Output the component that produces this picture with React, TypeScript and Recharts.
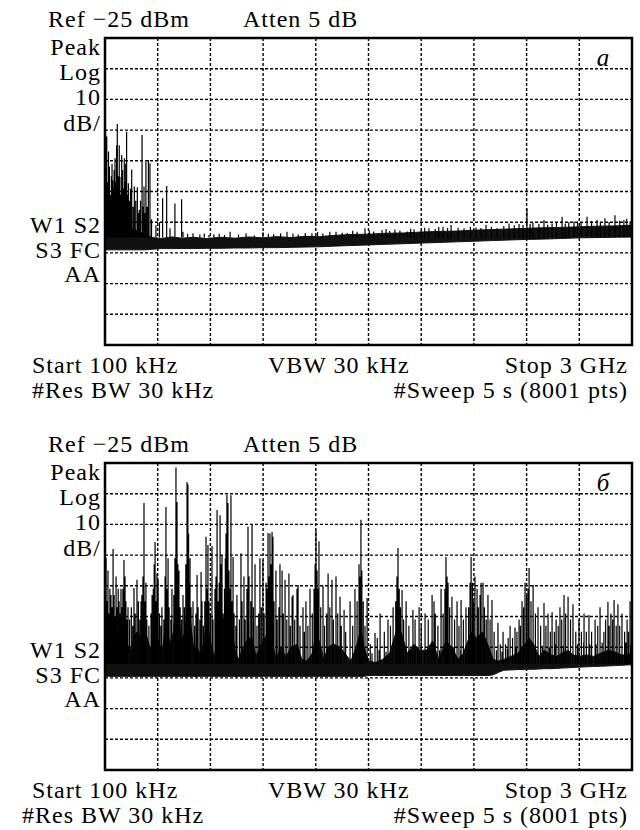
import React from "react";
import {
  ComposedChart,
  Area,
  Line,
  XAxis,
  YAxis,
  CartesianGrid,
  ReferenceArea,
} from "recharts";

// frequency axis in MHz (100 kHz .. 3 GHz), level in dBm (ref -25, 10 dB/div)
const freqTicks = [0, 300, 600, 900, 1200, 1500, 1800, 2100, 2400, 2700, 3000];
const levelTicks = [-125, -115, -105, -95, -85, -75, -65, -55, -45, -35, -25];

const headerLabels = ["Ref −25 dBm", "Atten 5 dB"];
const sideLabelsUpper = ["Peak", "Log", "10", "dB/"];
const sideLabelsLower = ["W1 S2", "S3 FC", "AA"];
const footerLine1 = ["Start 100 kHz", "VBW 30 kHz", "Stop 3 GHz"];
const footerLine2 = ["#Res BW 30 kHz", "#Sweep 5 s (8001 pts)"];
const panelTags = ["а", "б"];

// noise floor band: [MHz, low dBm, high dBm]
const floorA = [
  [0, -94, -84], [30, -94, -85], [60, -94, -84], [90, -94, -85.5], [120, -94, -86],
  [150, -94, -87], [190, -94, -88], [230, -94, -89], [270, -93.8, -90], [320, -93.6, -90.3],
  [380, -93.6, -89.8], [440, -93.6, -90.2], [500, -93.6, -89.9], [580, -93.5, -90.3], [660, -93.5, -89.9],
  [740, -93.4, -90.2], [820, -93.4, -89.8], [900, -93.3, -90.1], [980, -93.3, -89.7], [1060, -93.2, -90],
  [1140, -93.1, -89.6], [1220, -93, -89.7], [1300, -92.8, -89.3], [1400, -92.6, -89], [1500, -92.4, -88.9],
  [1600, -92.2, -88.6], [1700, -92, -88.5], [1800, -91.8, -88.2], [1900, -91.6, -88], [2000, -91.4, -87.9],
  [2100, -91.2, -87.6], [2200, -91, -87.4], [2300, -90.8, -87.2], [2400, -90.6, -87], [2500, -90.5, -86.8],
  [2600, -90.3, -86.7], [2700, -90.1, -86.5], [2800, -90, -86.3], [2900, -89.9, -86.2], [3000, -89.8, -86],
];

const floorB = [
  [0, -94.5, -80], [20, -94.5, -82], [46, -94.5, -79], [70, -94.5, -81], [100, -94.5, -80],
  [125, -94.5, -84], [150, -94.5, -86], [165, -94.5, -81], [185, -94.5, -80], [205, -94.5, -82],
  [222, -94.5, -77], [240, -94.5, -82], [260, -94.5, -86], [285, -94.5, -79], [300, -94.5, -82],
  [325, -94.5, -87], [347, -94.5, -77], [370, -94.5, -84], [390, -94.5, -80], [404, -94.5, -70],
  [415, -94.5, -72], [435, -94.5, -83], [455, -94.5, -80], [467, -94.5, -72], [484, -94.5, -75],
  [505, -94.5, -86], [524, -94.5, -85], [550, -94.5, -88], [575, -94.5, -79], [590, -94.5, -80],
  [610, -94.5, -86], [625, -94.5, -88], [638, -94.5, -77], [660, -94.5, -78], [694, -94.5, -73],
  [705, -94.5, -75], [720, -94.5, -78], [740, -94.5, -86], [760, -94.5, -89], [780, -94.5, -86],
  [814, -94.5, -82], [837, -94.5, -82], [860, -94.5, -88], [880, -94.5, -85], [900, -94.5, -83],
  [930, -94.5, -80], [950, -94.5, -83], [975, -94.5, -89], [1000, -94.5, -85], [1030, -94.5, -88],
  [1060, -94.5, -85], [1095, -94.5, -84], [1120, -94.5, -89], [1150, -94.5, -89.5], [1180, -94.5, -87],
  [1201, -94.5, -81], [1220, -94.5, -83], [1245, -94.5, -89], [1270, -94.5, -85], [1300, -94.5, -84],
  [1340, -94.5, -85], [1365, -94.5, -87], [1400, -94.5, -89.5], [1430, -94.5, -85], [1457, -94.5, -79],
  [1475, -94.5, -85], [1500, -94.2, -89.5], [1540, -94.2, -90], [1580, -94.2, -89], [1620, -94.2, -87],
  [1668, -94.2, -78], [1691, -94.2, -81], [1720, -94.2, -87], [1760, -94.2, -84], [1790, -94.2, -86],
  [1830, -94.2, -86], [1865, -94.2, -83], [1900, -94.2, -89], [1941, -94.2, -83], [1975, -94.2, -85],
  [2010, -94.2, -89], [2040, -94.2, -87], [2084, -94.2, -80], [2115, -94.2, -82], [2150, -94.2, -80],
  [2185, -94.2, -85], [2210, -94, -89], [2240, -93.2, -89.5], [2270, -92.5, -89], [2310, -92.4, -88],
  [2350, -92.3, -87], [2391, -92.2, -84], [2414, -92.2, -82], [2440, -92.2, -84], [2470, -92.1, -88],
  [2500, -92, -86], [2540, -92, -87.5], [2570, -91.9, -88], [2600, -91.8, -87], [2636, -91.7, -86],
  [2664, -91.6, -87.5], [2700, -91.5, -88], [2740, -91.4, -87.5], [2780, -91.3, -88], [2820, -91.2, -87],
  [2863, -91.1, -86], [2900, -91, -86.5], [2940, -90.9, -87.5], [2970, -90.8, -87.5], [3000, -90.7, -87],
];

// spectral lines: [MHz, peak dBm]
const spikesA = [
  [3, -57], [5, -68], [10, -57.1], [15, -72], [20, -62], [25, -66.9], [28, -78], [32, -76.1],
  [36, -70], [40, -66], [44, -71.3], [48, -74], [52, -68], [57, -64.2], [62, -72], [66, -60],
  [70, -53], [75, -70], [81, -59.9], [85, -70.2], [90, -76], [95, -63.1], [100, -68], [105, -74],
  [110, -64.2], [115, -72], [118, -66], [123, -55.5], [128, -76], [133, -72.3], [138, -78], [145, -74],
  [152, -67.8], [160, -80], [167, -73.4], [175, -78], [184, -73.6], [190, -82], [195, -81], [202, -78],
  [211, -56.6], [215, -80], [222, -73.4], [228, -82], [233, -65.3], [240, -80], [247, -64.7], [256, -65.8],
  [265, -84], [290, -86], [310, -85], [328, -77.2], [351, -73.2], [370, -87], [398, -78.9], [436, -77.5],
  [444, -88.1], [470, -88.8], [501, -88.6], [540, -89], [565, -88.7], [592, -89.2], [620, -88.9], [650, -88.8],
  [680, -89.2], [712, -88.1], [760, -89], [803, -88.6], [850, -89.3], [899, -88.3], [930, -88.8], [960, -88.9],
  [1000, -88.6], [1036, -88.1], [1070, -88.7], [1100, -89], [1140, -88.5], [1178, -88.6], [1210, -88.2],
  [1240, -88.7], [1280, -88.1], [1315, -88.1], [1350, -88.4], [1380, -88.5], [1410, -87.8], [1435, -88.1],
  [1480, -87], [1505, -87.8], [1530, -88], [1577, -87.5], [1600, -87.2], [1620, -87.9], [1650, -87.4],
  [1679, -87.7], [1720, -88], [1740, -87.1], [1759, -87.3], [1800, -87.6], [1820, -86.8], [1844, -87],
  [1880, -87.2], [1900, -86.6], [1924, -86.5], [1950, -86.9], [1970, -85.9], [2010, -86.8], [2044, -87],
  [2080, -86.6], [2112, -86.7], [2140, -86.9], [2169, -85.9], [2200, -86.5], [2232, -87], [2270, -86.2],
  [2300, -85.4], [2330, -86], [2357, -85.6], [2380, -85.9], [2402, -80.5], [2420, -85.6], [2436, -85.2],
  [2470, -85.5], [2499, -84.3], [2520, -85.8], [2545, -85.4], [2570, -85.1], [2602, -83.2], [2620, -85.4],
  [2640, -85], [2670, -84.8], [2690, -85.2], [2710, -85.3], [2744, -83.2], [2770, -84.6], [2801, -84.3],
  [2820, -84.9], [2846, -83.7], [2870, -84.9], [2903, -82.7], [2930, -84.5], [2954, -84.3], [2970, -83.9],
  [2989, -84.8],
];

const spikesB = [
  [6, -56], [12, -70], [17, -60], [22, -74], [28, -66], [34, -68], [40, -72], [46, -53],
  [52, -68], [58, -75], [63, -62], [68, -72], [75, -66], [80, -70], [86, -74], [91, -66],
  [97, -72], [102, -66], [108, -56.6], [114, -62], [119, -70], [125, -76], [131, -72], [140, -76],
  [150, -72], [158, -78], [165, -65.7], [172, -74], [182, -63], [190, -70], [198, -76], [205, -70],
  [210, -68], [216, -62], [222, -38], [228, -70], [233, -64], [238, -76], [250, -78], [262, -74],
  [268, -68], [275, -66], [280, -58], [285, -50.7], [290, -70], [296, -61], [302, -63], [310, -74],
  [318, -78], [324, -72], [335, -76], [342, -62], [347, -39.3], [352, -66], [359, -56], [365, -72],
  [375, -76], [381, -66], [392, -68], [398, -56], [404, -26.5], [407, -50], [410, -37.7], [415, -58],
  [421, -60], [428, -72], [436, -76], [444, -68], [452, -72], [460, -58], [467, -31.2], [472, -32],
  [476, -48], [480, -64], [484, -56], [490, -72], [501, -70], [510, -78], [518, -74], [524, -61.5],
  [530, -72], [540, -76], [547, -60.5], [552, -70], [560, -78], [568, -70], [575, -49], [580, -66],
  [586, -51.7], [592, -70], [600, -74], [609, -52], [615, -76], [626, -66], [632, -62], [638, -40.3],
  [644, -70], [650, -64], [655, -42], [660, -58], [666, -55], [672, -74], [680, -66], [685, -56],
  [689, -48], [694, -35.4], [700, -38], [706, -60], [711, -66], [717, -35.5], [722, -70], [729, -55.6],
  [735, -74], [745, -78], [751, -68], [765, -76], [774, -54.4], [780, -70], [791, -62], [798, -76],
  [808, -66], [814, -45.8], [820, -62], [830, -70], [837, -45.2], [845, -72], [854, -58], [865, -78],
  [875, -74], [882, -56], [890, -72], [899, -56.6], [906, -74], [917, -64], [922, -66], [928, -47.8],
  [934, -62], [939, -48], [945, -58], [951, -47.5], [956, -49], [962, -70], [973, -60], [980, -76],
  [990, -72], [996, -58], [1008, -60], [1015, -74], [1025, -63], [1035, -76], [1047, -61], [1055, -78],
  [1065, -68.6], [1070, -68], [1080, -76], [1093, -66], [1099, -64.7], [1110, -78], [1127, -72], [1135, -80],
  [1144, -70], [1155, -78], [1167, -66], [1180, -74], [1190, -66], [1196, -58], [1201, -46.8], [1207, -60],
  [1212, -66], [1218, -50.5], [1228, -72], [1241, -65], [1250, -78], [1262, -74], [1270, -61], [1280, -72],
  [1292, -63], [1300, -76], [1315, -62], [1325, -74], [1338, -68.6], [1345, -78], [1361, -72.9], [1370, -80],
  [1395, -70], [1410, -78], [1423, -66], [1435, -70], [1446, -58], [1450, -62], [1457, -43.5], [1462, -60],
  [1470, -70], [1480, -78], [1492, -69], [1510, -84], [1520, -87], [1537, -80.4], [1550, -82], [1560, -86],
  [1566, -74], [1590, -80], [1600, -86.5], [1611, -76], [1625, -78], [1640, -72], [1655, -70], [1662, -62],
  [1668, -52.7], [1675, -66], [1682, -72], [1691, -66.4], [1700, -76], [1714, -70], [1730, -78], [1740, -86],
  [1753, -72.9], [1765, -76], [1780, -85], [1788, -72], [1800, -78], [1822, -74], [1840, -76], [1850, -86],
  [1862, -68], [1873, -70], [1880, -74], [1895, -78], [1905, -86], [1913, -66], [1925, -74], [1935, -66],
  [1941, -55.6], [1947, -62], [1953, -64], [1962, -72], [1975, -68.6], [1985, -85], [1990, -76], [2004, -70],
  [2015, -78], [2025, -86], [2027, -69.6], [2040, -76], [2055, -72], [2060, -85], [2070, -72], [2078, -64],
  [2084, -55.6], [2092, -64], [2098, -70], [2106, -62], [2118, -66], [2125, -72], [2135, -68], [2141, -64],
  [2152, -64], [2160, -72], [2170, -76], [2180, -68], [2192, -76], [2203, -69.6], [2215, -80], [2228, -86],
  [2237, -77], [2250, -84], [2260, -86.5], [2266, -80], [2280, -84], [2290, -85.5], [2295, -82], [2306, -78],
  [2320, -82], [2334, -78.6], [2340, -85], [2345, -80], [2357, -76], [2365, -78], [2374, -70], [2383, -72],
  [2391, -64], [2400, -68], [2408, -66], [2414, -59.2], [2425, -70], [2437, -64.7], [2450, -74], [2465, -72],
  [2480, -78], [2490, -84.5], [2499, -70.6], [2510, -78], [2522, -74], [2530, -85], [2535, -80], [2545, -73.6],
  [2558, -80], [2565, -84], [2568, -76], [2580, -78], [2590, -72], [2600, -76], [2610, -84.5], [2613, -68],
  [2622, -74], [2636, -68.6], [2650, -76], [2664, -71], [2680, -80], [2690, -84], [2698, -76], [2712, -80],
  [2725, -83.5], [2727, -74], [2740, -80], [2755, -74.5], [2760, -84], [2770, -80], [2790, -76], [2795, -84],
  [2805, -78], [2818, -72], [2830, -83.5], [2840, -80], [2850, -76], [2863, -70.3], [2870, -78], [2880, -74],
  [2890, -76], [2898, -69.6], [2910, -78], [2920, -71], [2930, -78], [2943, -74], [2958, -80], [2965, -83.5],
  [2972, -76], [2980, -80], [2989, -70], [2995, -84],
];

const FONT = "Liberation Serif, Times New Roman, serif";

function Trace({ floor, spikes, base }: { floor: number[][]; spikes: number[][]; base: number }) {
  const bandData = floor.map(([f, lo, hi]) => ({ f, range: [lo, hi] }));
  const lineData = spikes.flatMap(([f, v]) => [
    { f, v: base },
    { f, v },
    { f, v: null },
  ]);
  return (
    <ComposedChart width={640} height={425} margin={{ top: 38, right: 8, bottom: 80, left: 105 }}>
      <XAxis type="number" dataKey="f" domain={[0, 3000]} ticks={freqTicks} hide />
      <YAxis type="number" domain={[-125, -25]} ticks={levelTicks} allowDataOverflow hide />
      <CartesianGrid stroke="#000" strokeWidth={1.4} strokeDasharray="3 2" />
      <Area
        data={bandData}
        dataKey="range"
        type="linear"
        stroke="#111"
        strokeWidth={1}
        fill="#111"
        fillOpacity={1}
        isAnimationActive={false}
      />
      <Line
        data={lineData}
        dataKey="v"
        type="linear"
        stroke="#000"
        strokeWidth={1.2}
        dot={false}
        isAnimationActive={false}
      />
      <ReferenceArea x1={0} x2={3000} y1={-125} y2={-25} fill="none" stroke="#000" strokeWidth={2.5} />
    </ComposedChart>
  );
}

function Txt({ x, y, anchor = "start", children }: any) {
  return (
    <text
      x={x}
      y={y}
      textAnchor={anchor}
      fontFamily={FONT}
      fontSize={24}
      letterSpacing={1}
      fill="#000"
    >
      {children}
    </text>
  );
}

function Labels({ dy, tag, resX }: { dy: number; tag: string; resX: number }) {
  return (
    <g transform={`translate(0,${dy})`}>
      <Txt x={48} y={27}>{headerLabels[0]}</Txt>
      <Txt x={243} y={27}>{headerLabels[1]}</Txt>
      {sideLabelsUpper.map((s, i) => (
        <Txt key={s} x={101} y={55 + i * 25.2} anchor="end">{s}</Txt>
      ))}
      {sideLabelsLower.map((s, i) => (
        <Txt key={s} x={101} y={233 + i * 24.5} anchor="end">{s}</Txt>
      ))}
      <Txt x={32} y={373}>{footerLine1[0]}</Txt>
      <Txt x={268} y={373}>{footerLine1[1]}</Txt>
      <Txt x={628} y={373} anchor="end">{footerLine1[2]}</Txt>
      <Txt x={resX} y={398}>{footerLine2[0]}</Txt>
      <Txt x={628} y={398} anchor="end">{footerLine2[1]}</Txt>
      <text x={603} y={66} textAnchor="middle" fontFamily={FONT} fontSize={25} fontStyle="italic" fill="#000">
        {tag}
      </text>
    </g>
  );
}

export default function App() {
  return (
    <div style={{ position: "absolute", left: 0, top: 0, width: 640, height: 830, background: "#fff" }}>
      <div style={{ position: "absolute", left: 0, top: 0 }}>
        <Trace floor={floorA} spikes={spikesA} base={-90} />
      </div>
      <div style={{ position: "absolute", left: 0, top: 425 }}>
        <Trace floor={floorB} spikes={spikesB} base={-90.5} />
      </div>
      <svg
        width={640}
        height={830}
        style={{ position: "absolute", left: 0, top: 0, pointerEvents: "none" }}
      >
        <Labels dy={0} tag={panelTags[0]} resX={32} />
        <Labels dy={425} tag={panelTags[1]} resX={22} />
      </svg>
    </div>
  );
}
